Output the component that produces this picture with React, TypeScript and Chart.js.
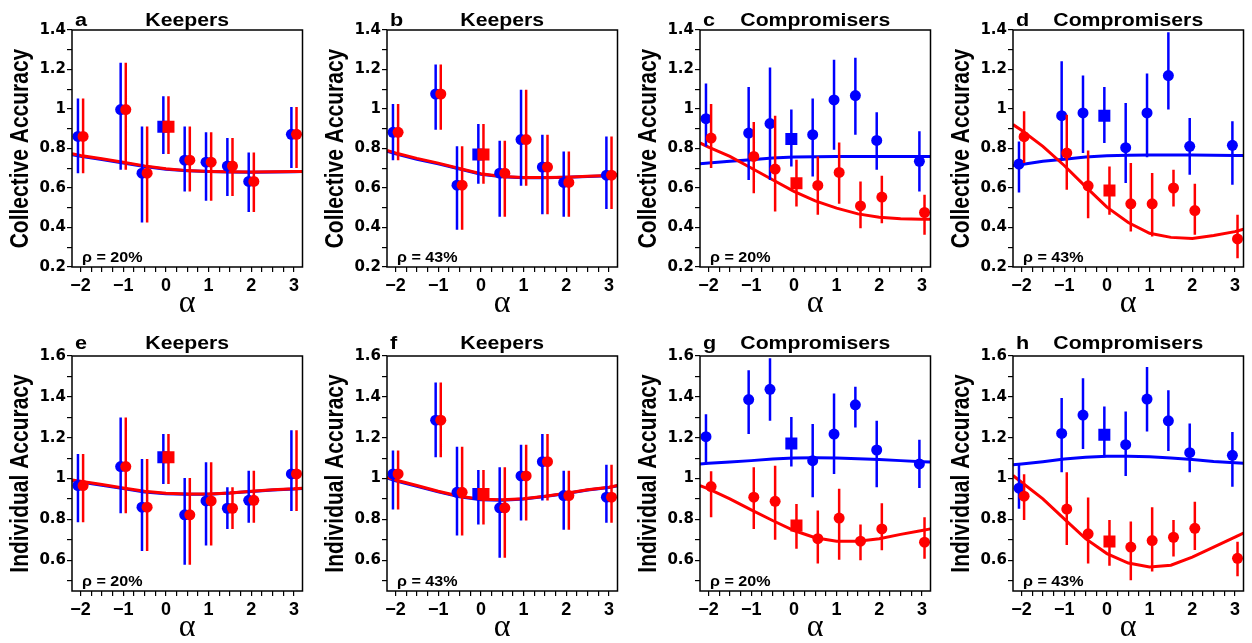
import React, { useEffect, useRef } from 'react';
import { Chart, registerables } from 'chart.js';

Chart.register(...registerables);

// ---------- data ----------
const alphas = [-2, -1, -0.5, 0, 0.5, 1, 1.5, 2, 3];
const fitAlphas = [-2.2, -2, -1.5, -1, -0.5, 0, 0.5, 1, 1.5, 2, 2.5, 3, 3.2];
const xTickValues = [-2, -1.75, -1.5, -1.25, -1, -0.75, -0.5, -0.25, 0, 0.25, 0.5, 0.75, 1, 1.25, 1.5, 1.75, 2, 2.25, 2.5, 2.75, 3];
const yTicksTop = [0.2, 0.3, 0.4, 0.5, 0.6, 0.7, 0.8, 0.9, 1.0, 1.1, 1.2, 1.3, 1.4];
const yTicksBottom = [0.5, 0.6, 0.7, 0.8, 0.9, 1.0, 1.1, 1.2, 1.3, 1.4, 1.5, 1.6];

// a: Keepers, collective, rho 20%
const aMean = [0.861, 0.997, 0.675, 0.910, 0.741, 0.731, 0.711, 0.633, 0.872];
const aLow = [0.675, 0.692, 0.425, 0.772, 0.582, 0.535, 0.560, 0.478, 0.701];
const aHigh = [1.053, 1.234, 0.912, 1.064, 0.912, 0.882, 0.853, 0.780, 1.010];
const aFitRed = [0.773, 0.765, 0.748, 0.730, 0.712, 0.697, 0.688, 0.684, 0.682, 0.681, 0.682, 0.683, 0.684];
const aFitBlue = [0.769, 0.761, 0.744, 0.727, 0.709, 0.695, 0.687, 0.683, 0.681, 0.680, 0.681, 0.682, 0.683];

// b: Keepers, collective, rho 43%
const bMean = [0.882, 1.076, 0.614, 0.770, 0.675, 0.845, 0.706, 0.628, 0.665];
const bLow = [0.740, 0.895, 0.388, 0.621, 0.455, 0.611, 0.467, 0.455, 0.494];
const bHigh = [1.025, 1.225, 0.811, 0.924, 0.839, 1.098, 0.870, 0.785, 0.861];
const bFitRed = [0.790, 0.777, 0.750, 0.726, 0.699, 0.672, 0.658, 0.653, 0.653, 0.655, 0.659, 0.663, 0.667];
const bFitBlue = [0.786, 0.773, 0.746, 0.722, 0.696, 0.670, 0.657, 0.652, 0.652, 0.654, 0.658, 0.662, 0.666];

// c: Compromisers, collective, rho 20%
const cBlueMean = [0.951, 0.878, 0.926, 0.848, 0.870, 1.046, 1.068, 0.841, 0.735];
const cBlueLow = [0.810, 0.640, 0.640, 0.709, 0.658, 0.794, 0.870, 0.692, 0.582];
const cBlueHigh = [1.129, 1.112, 1.210, 0.997, 1.053, 1.250, 1.259, 0.983, 0.887];
const cRedMean = [0.853, 0.760, 0.696, 0.624, 0.613, 0.679, 0.509, 0.554, 0.476];
const cRedLow = [0.701, 0.574, 0.481, 0.506, 0.464, 0.520, 0.396, 0.422, 0.363];
const cRedHigh = [1.025, 0.934, 0.966, 0.743, 0.760, 0.831, 0.633, 0.662, 0.566];
const cFitBlue = [0.723, 0.726, 0.735, 0.743, 0.752, 0.757, 0.758, 0.760, 0.760, 0.760, 0.760, 0.760, 0.759];
const cFitRed = [0.828, 0.807, 0.760, 0.701, 0.642, 0.583, 0.535, 0.498, 0.469, 0.452, 0.444, 0.442, 0.442];

// d: Compromisers, collective, rho 43%
const dBlueMean = [0.721, 0.966, 0.980, 0.966, 0.804, 0.980, 1.169, 0.811, 0.816];
const dBlueLow = [0.577, 0.750, 0.777, 0.828, 0.625, 0.756, 0.997, 0.667, 0.616];
const dBlueHigh = [0.836, 1.242, 1.169, 1.112, 1.031, 1.180, 1.389, 0.955, 0.938];
const dRedMean = [0.860, 0.777, 0.611, 0.587, 0.520, 0.520, 0.600, 0.486, 0.342];
const dRedLow = [0.726, 0.591, 0.447, 0.464, 0.380, 0.354, 0.506, 0.363, 0.244];
const dRedHigh = [0.988, 0.971, 0.790, 0.709, 0.726, 0.676, 0.692, 0.621, 0.464];
const dFitBlue = [0.714, 0.719, 0.735, 0.746, 0.757, 0.763, 0.766, 0.767, 0.767, 0.767, 0.766, 0.765, 0.765];
const dFitRed = [0.921, 0.892, 0.811, 0.714, 0.607, 0.503, 0.425, 0.371, 0.350, 0.344, 0.359, 0.379, 0.391];

// e: Keepers, individual, rho 20%
const eMean = [0.966, 1.059, 0.860, 1.104, 0.823, 0.891, 0.855, 0.894, 1.023];
const eLow = [0.787, 0.831, 0.646, 0.974, 0.579, 0.673, 0.754, 0.784, 0.841];
const eHigh = [1.120, 1.299, 1.096, 1.218, 1.003, 1.080, 0.958, 1.039, 1.237];
const eFitRed = [0.993, 0.987, 0.971, 0.954, 0.938, 0.928, 0.925, 0.925, 0.930, 0.938, 0.945, 0.950, 0.953];
const eFitBlue = [0.989, 0.983, 0.967, 0.951, 0.935, 0.926, 0.923, 0.924, 0.929, 0.937, 0.944, 0.949, 0.952];

// f: Keepers, individual, rho 43%
const fMean = [1.023, 1.286, 0.933, 0.925, 0.857, 1.013, 1.083, 0.917, 0.909];
const fLow = [0.849, 1.104, 0.722, 0.776, 0.613, 0.795, 0.893, 0.750, 0.784];
const fHigh = [1.137, 1.470, 1.156, 1.042, 1.055, 1.166, 1.218, 1.039, 1.068];
const fFitRed = [1.007, 0.993, 0.966, 0.938, 0.914, 0.899, 0.896, 0.901, 0.914, 0.928, 0.945, 0.958, 0.966];
const fFitBlue = [1.003, 0.989, 0.962, 0.935, 0.911, 0.897, 0.894, 0.900, 0.913, 0.927, 0.944, 0.957, 0.965];

// g: Compromisers, individual, rho 20%
const gBlueMean = [1.205, 1.387, 1.437, 1.172, 1.088, 1.218, 1.361, 1.140, 1.072];
const gBlueLow = [1.080, 1.218, 1.283, 1.059, 0.909, 1.023, 1.250, 0.958, 0.954];
const gBlueHigh = [1.315, 1.530, 1.589, 1.302, 1.267, 1.416, 1.449, 1.283, 1.190];
const gRedMean = [0.961, 0.909, 0.889, 0.771, 0.706, 0.807, 0.694, 0.754, 0.689];
const gRedLow = [0.811, 0.754, 0.701, 0.657, 0.584, 0.603, 0.600, 0.649, 0.608];
const gRedHigh = [1.036, 1.055, 1.063, 0.876, 0.844, 0.950, 0.776, 0.880, 0.811];
const gFitBlue = [1.072, 1.075, 1.081, 1.088, 1.096, 1.101, 1.102, 1.101, 1.097, 1.093, 1.088, 1.083, 1.081];
const gFitRed = [0.966, 0.950, 0.901, 0.847, 0.795, 0.746, 0.711, 0.694, 0.694, 0.706, 0.727, 0.746, 0.754];

// h: Compromisers, individual, rho 43%
const hBlueMean = [0.953, 1.221, 1.311, 1.215, 1.166, 1.389, 1.283, 1.127, 1.114];
const hBlueLow = [0.852, 1.031, 1.145, 1.104, 1.013, 1.231, 1.135, 1.031, 0.960];
const hBlueHigh = [1.071, 1.394, 1.491, 1.353, 1.328, 1.546, 1.433, 1.270, 1.228];
const hRedMean = [0.914, 0.851, 0.730, 0.692, 0.665, 0.697, 0.713, 0.757, 0.610];
const hRedLow = [0.798, 0.675, 0.584, 0.574, 0.503, 0.546, 0.619, 0.651, 0.522];
const hRedHigh = [1.021, 1.031, 0.908, 0.798, 0.790, 0.860, 0.798, 0.887, 0.691];
const hFitBlue = [1.068, 1.072, 1.083, 1.096, 1.104, 1.109, 1.109, 1.107, 1.101, 1.093, 1.084, 1.078, 1.075];
const hFitRed = [1.015, 0.982, 0.901, 0.803, 0.706, 0.633, 0.587, 0.567, 0.576, 0.616, 0.665, 0.714, 0.733];

// ---------- styling ----------
const BLUE = '#0000ff';
const RED = '#ff0000';
const SANS = '"Liberation Sans", Arial, Helvetica, sans-serif';
const WIDE_SANS = '"DejaVu Sans", "Liberation Sans", sans-serif';
const panelLefts = [72, 387, 700, 1013];
const PLOT_W = 236;
const Y_AXIS_W = 72;
const X_AXIS_H = 56;
const CANVAS_W = 311;

type Series = { mean: number[]; low: number[]; high: number[] };
type Panel = {
  letter: string; title: string; rho: string; row: number; col: number;
  blue: Series; red: Series; blueFit: number[]; redFit: number[];
};

const panels: Panel[] = [
  { letter: 'a', title: 'Keepers', rho: 'ρ = 20%', row: 0, col: 0, blue: { mean: aMean, low: aLow, high: aHigh }, red: { mean: aMean, low: aLow, high: aHigh }, blueFit: aFitBlue, redFit: aFitRed },
  { letter: 'b', title: 'Keepers', rho: 'ρ = 43%', row: 0, col: 1, blue: { mean: bMean, low: bLow, high: bHigh }, red: { mean: bMean, low: bLow, high: bHigh }, blueFit: bFitBlue, redFit: bFitRed },
  { letter: 'c', title: 'Compromisers', rho: 'ρ = 20%', row: 0, col: 2, blue: { mean: cBlueMean, low: cBlueLow, high: cBlueHigh }, red: { mean: cRedMean, low: cRedLow, high: cRedHigh }, blueFit: cFitBlue, redFit: cFitRed },
  { letter: 'd', title: 'Compromisers', rho: 'ρ = 43%', row: 0, col: 3, blue: { mean: dBlueMean, low: dBlueLow, high: dBlueHigh }, red: { mean: dRedMean, low: dRedLow, high: dRedHigh }, blueFit: dFitBlue, redFit: dFitRed },
  { letter: 'e', title: 'Keepers', rho: 'ρ = 20%', row: 1, col: 0, blue: { mean: eMean, low: eLow, high: eHigh }, red: { mean: eMean, low: eLow, high: eHigh }, blueFit: eFitBlue, redFit: eFitRed },
  { letter: 'f', title: 'Keepers', rho: 'ρ = 43%', row: 1, col: 1, blue: { mean: fMean, low: fLow, high: fHigh }, red: { mean: fMean, low: fLow, high: fHigh }, blueFit: fFitBlue, redFit: fFitRed },
  { letter: 'g', title: 'Compromisers', rho: 'ρ = 20%', row: 1, col: 2, blue: { mean: gBlueMean, low: gBlueLow, high: gBlueHigh }, red: { mean: gRedMean, low: gRedLow, high: gRedHigh }, blueFit: gFitBlue, redFit: gFitRed },
  { letter: 'h', title: 'Compromisers', rho: 'ρ = 43%', row: 1, col: 3, blue: { mean: hBlueMean, low: hBlueLow, high: hBlueHigh }, red: { mean: hRedMean, low: hRedLow, high: hRedHigh }, blueFit: hFitBlue, redFit: hFitRed },
];

const rowCfg = [
  { canvasTop: 0, padTop: 30, plotH: 237, yMin: 0.2, yMax: 1.4, yTicks: yTicksTop, yTitle: 'Collective Accuracy', titleGap: 4 },
  { canvasTop: 326, padTop: 30, plotH: 235, yMin: 0.45, yMax: 1.6, yTicks: yTicksBottom, yTitle: 'Individual Accuracy', titleGap: 7 },
];

const errorBarPlugin = {
  id: 'errorBars',
  beforeDatasetDraw(chart: any, args: any) {
    const ds: any = chart.data.datasets[args.index];
    if (!ds.errLow) return;
    const { ctx, chartArea } = chart;
    const xs = chart.scales.x;
    const ys = chart.scales.y;
    ctx.save();
    ctx.beginPath();
    ctx.rect(chartArea.left, chartArea.top, chartArea.right - chartArea.left, chartArea.bottom - chartArea.top);
    ctx.clip();
    ctx.strokeStyle = ds.backgroundColor;
    ctx.lineWidth = 2.5;
    ctx.beginPath();
    ds.data.forEach((p: any, i: number) => {
      const x = xs.getPixelForValue(p.x);
      ctx.moveTo(x, ys.getPixelForValue(ds.errLow[i]));
      ctx.lineTo(x, ys.getPixelForValue(ds.errHigh[i]));
    });
    ctx.stroke();
    ctx.restore();
  },
};

function makeFramePlugin(p: Panel, gap: number, yTitle: string) {
  const drawText = (ctx: any, text: string, x: number, y: number, font: string, align: string, sx: number) => {
    ctx.save();
    ctx.font = font;
    ctx.fillStyle = '#000';
    ctx.textBaseline = 'alphabetic';
    ctx.textAlign = align;
    ctx.translate(x, y);
    ctx.scale(sx, 1);
    ctx.fillText(text, 0, 0);
    ctx.restore();
  };
  return {
    id: 'frame' + p.letter,
    afterDraw(chart: any) {
      const { ctx, chartArea } = chart;
      const { left, right, top, bottom } = chartArea;
      ctx.save();
      ctx.strokeStyle = '#000';
      ctx.lineWidth = 1.5;
      ctx.strokeRect(left, top, right - left, bottom - top);
      ctx.restore();
      drawText(ctx, p.letter, left + 3, top - gap, `bold 18px ${SANS}`, 'left', 1.2);
      drawText(ctx, p.title, (left + right) / 2, top - gap, `bold 18px ${SANS}`, 'center', 1.18);
      drawText(ctx, p.rho, left + 10, bottom - 5, `bold 14px ${SANS}`, 'left', 1.15);
      // y-axis title, rotated, slightly widened across the text line
      ctx.save();
      ctx.font = `bold 21px ${SANS}`;
      ctx.fillStyle = '#000';
      ctx.textAlign = 'center';
      ctx.textBaseline = 'middle';
      ctx.translate(left - 51, (top + bottom) / 2);
      ctx.rotate(-Math.PI / 2);
      ctx.scale(1, 1.2);
      ctx.fillText(yTitle, 0, 0);
      ctx.restore();
    },
  };
}

function PanelChart({ p }: { p: Panel }) {
  const ref = useRef<HTMLCanvasElement>(null);
  const rc = rowCfg[p.row];
  const canvasLeft = panelLefts[p.col] - Y_AXIS_W;
  const canvasH = rc.padTop + rc.plotH + X_AXIS_H;

  useEffect(() => {
    if (!ref.current) return;
    const pointStyles = alphas.map((a) => (a === 0 ? 'rect' : 'circle'));
    const pointRadii = alphas.map((a) => (a === 0 ? 8.5 : 5.5));
    const mkPoints = (s: Series, color: string, off: number, order: number) => ({
      data: alphas.map((a, i) => ({ x: a + off, y: s.mean[i] })),
      backgroundColor: color,
      borderColor: color,
      pointStyle: pointStyles,
      pointRadius: pointRadii,
      pointBorderWidth: 0,
      showLine: false,
      errLow: s.low,
      errHigh: s.high,
      order,
    });
    const mkFit = (vals: number[], color: string, order: number) => ({
      data: fitAlphas.map((a, i) => ({ x: a, y: vals[i] })),
      borderColor: color,
      backgroundColor: color,
      borderWidth: 3,
      pointRadius: 0,
      showLine: true,
      tension: 0,
      order,
    });
    const datasets: any[] = [
      mkFit(p.blueFit, BLUE, 11),
      mkFit(p.redFit, RED, 10),
      mkPoints(p.blue, BLUE, -0.06, 2),
      mkPoints(p.red, RED, 0.06, 1),
    ];

    const chart = new Chart(ref.current, {
      type: 'scatter',
      data: { datasets },
      options: {
        animation: false,
        responsive: false,
        maintainAspectRatio: false,
        events: [],
        layout: { padding: { top: rc.padTop, left: 0, bottom: 0, right: CANVAS_W - Y_AXIS_W - PLOT_W } },
        plugins: { legend: { display: false }, tooltip: { enabled: false }, title: { display: false } },
        scales: {
          x: {
            type: 'linear',
            min: -2.2,
            max: 3.2,
            afterFit: (s: any) => { s.height = X_AXIS_H; },
            afterBuildTicks: (s: any) => { s.ticks = xTickValues.map((v) => ({ value: v })); },
            ticks: {
              autoSkip: false,
              maxRotation: 0,
              minRotation: 0,
              padding: 3,
              color: '#000',
              font: { family: SANS, size: 18, weight: 'bold' },
              callback: (v: any) => {
                const n = Number(v);
                if (Math.abs(n - Math.round(n)) > 1e-6) return '';
                const r = Math.round(n);
                return r < 0 ? '\u2212' + Math.abs(r) : String(r);
              },
            },
            grid: { display: true, drawOnChartArea: false, drawTicks: true, tickLength: 5, color: '#000', lineWidth: 1.2 },
            border: { display: false },
            title: {
              display: true,
              text: 'α',
              color: '#000',
              font: { family: '"Liberation Serif", "DejaVu Serif", serif', size: 32, weight: 'normal', lineHeight: 1.2 },
              padding: { top: 0, bottom: 0 },
            },
          },
          y: {
            type: 'linear',
            min: rc.yMin,
            max: rc.yMax,
            afterFit: (s: any) => { s.width = Y_AXIS_W; },
            afterBuildTicks: (s: any) => { s.ticks = rc.yTicks.map((v) => ({ value: v })); },
            ticks: {
              autoSkip: false,
              padding: 1,
              color: '#000',
              font: { family: WIDE_SANS, size: 15, weight: 'bold' },
              callback: (v: any) => {
                const n = Number(v);
                if (Math.abs(n * 5 - Math.round(n * 5)) > 1e-6) return '';
                if (Math.abs(n - 1) < 1e-6) return '1';
                return n.toFixed(1);
              },
            },
            grid: { display: true, drawOnChartArea: false, drawTicks: true, tickLength: 5, color: '#000', lineWidth: 1.2 },
            border: { display: false },
            title: { display: false, text: rc.yTitle },
          },
        },
      } as any,
      plugins: [errorBarPlugin, makeFramePlugin(p, rc.titleGap, rc.yTitle)],
    });
    return () => chart.destroy();
  }, []);

  return (
    <canvas
      ref={ref}
      width={CANVAS_W}
      height={canvasH}
      style={{ position: 'absolute', left: canvasLeft, top: rc.canvasTop, width: CANVAS_W, height: canvasH }}
    />
  );
}

export default function App() {
  useEffect(() => {
    document.body.style.margin = '0';
    document.body.style.overflow = 'hidden';
  }, []);
  return (
    <div style={{ position: 'absolute', left: 0, top: 0, width: 1252, height: 643, overflow: 'hidden', background: '#fff' }}>
      {panels.map((p) => (
        <PanelChart key={p.letter} p={p} />
      ))}
    </div>
  );
}
